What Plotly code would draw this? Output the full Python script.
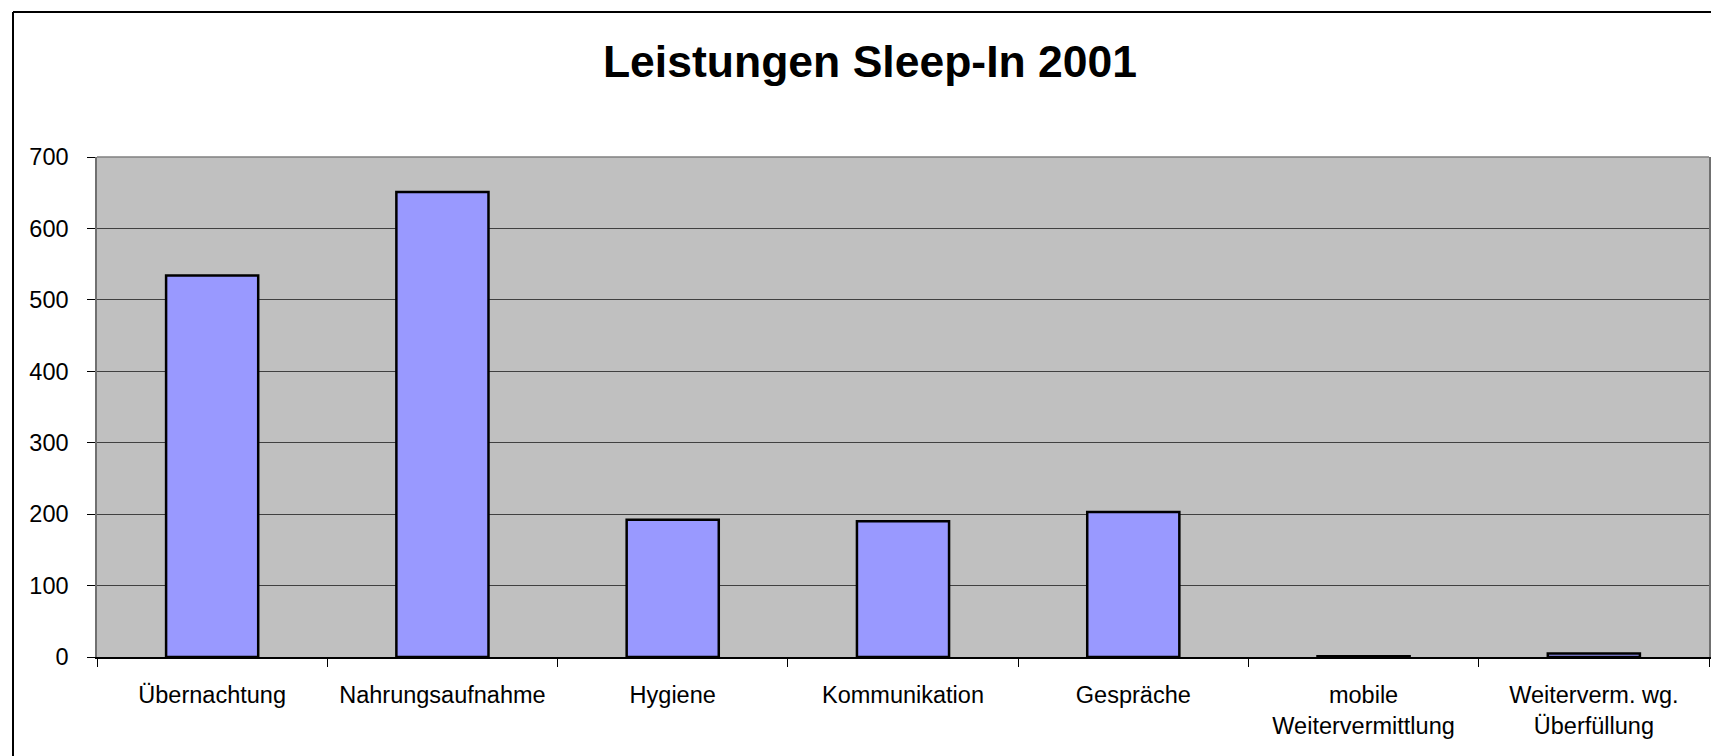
import plotly.graph_objects as go

categories = ["Übernachtung", "Nahrungsaufnahme", "Hygiene", "Kommunikation",
              "Gespräche", "mobile<br>Weitervermittlung", "Weiterverm. wg.<br>Überfüllung"]
values = [534, 651, 192, 190, 203, 1, 5]
y_ticks = [0, 100, 200, 300, 400, 500, 600, 700]

FONT = "Arial, Liberation Sans, sans-serif"

fig = go.Figure()
fig.add_trace(go.Bar(
    x=categories, y=values,
    marker=dict(color="#9999FF", line=dict(color="#000000", width=2.5)),
    width=0.4,
))

W, H = 1711, 756
L, T = 97, 157
R = W - 1709
B = H - 657
pw, ph = W - L - R, H - T - B

fig.update_layout(
    width=W, height=H,
    margin=dict(l=L, r=R, t=T, b=B, autoexpand=False),
    paper_bgcolor="white",
    plot_bgcolor="#C0C0C0",
    showlegend=False,
    font=dict(family=FONT, color="black", size=23.5),
    title=dict(text="<b>Leistungen Sleep-In 2001</b>", x=870 / W, xanchor="center",
               y=1 - 61 / H, yanchor="middle", yref="container",
               font=dict(family=FONT, size=44.5, color="black")),
    bargap=0.6,
)
fig.update_xaxes(
    type="category", showgrid=False, showline=True, linecolor="black", linewidth=1.5,
    ticks="outside", tickson="boundaries", ticklen=8, tickcolor="black", tickwidth=1,
    ticklabelstandoff=16, tickfont=dict(size=23.5),
)
fig.update_yaxes(
    range=[0, 700], tickvals=y_ticks, showgrid=True, gridcolor="#404040", gridwidth=1,
    showline=True, linecolor="#707070", linewidth=1.5, mirror=True,
    ticks="outside", ticklen=8, tickcolor="black", tickwidth=1, zeroline=False,
    ticklabelstandoff=14, tickfont=dict(size=23.5),
)
# plot-area top border
fig.add_shape(type="line", xref="paper", yref="paper", x0=0, x1=1, y0=1, y1=1,
              line=dict(color="#808080", width=1.5))
# outer chart border (left and top visible)
ox = (13 - L) / pw
oy = 1 + (T - 12) / ph
fig.add_shape(type="line", xref="paper", yref="paper", x0=ox, x1=ox, y0=-B / ph - 0.1, y1=oy,
              line=dict(color="black", width=2))
fig.add_shape(type="line", xref="paper", yref="paper", x0=ox, x1=1.1, y0=oy, y1=oy,
              line=dict(color="black", width=2))

fig.write_html("out.html",
               config={"displayModeBar": False},
               post_script="document.body.style.margin='0';document.body.style.overflow='hidden';")
